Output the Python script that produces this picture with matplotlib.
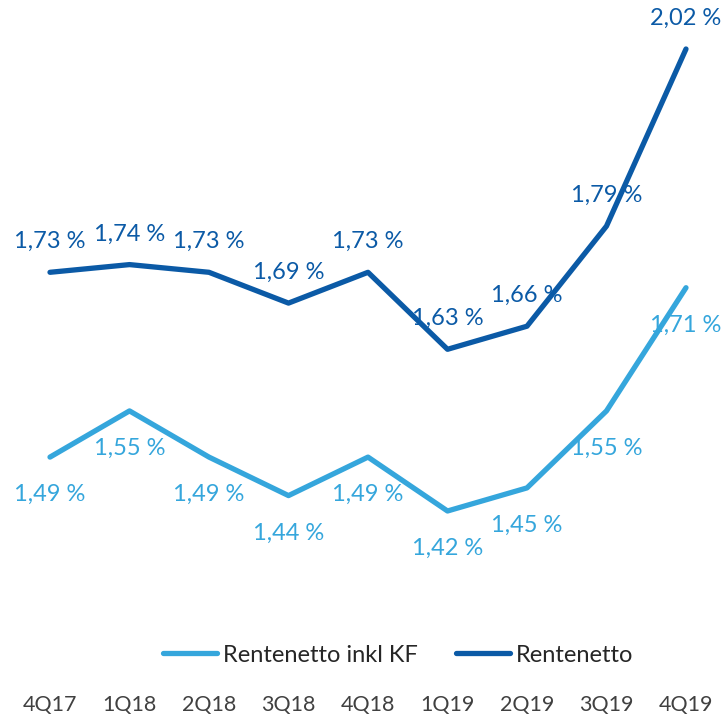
import matplotlib.pyplot as plt
import matplotlib.transforms as mtransforms

plt.rcParams['font.family'] = ['Lato', 'DejaVu Sans']

QUARTERS = ['4Q17', '1Q18', '2Q18', '3Q18', '4Q18', '1Q19', '2Q19', '3Q19', '4Q19']
RENTENETTO = [1.73, 1.74, 1.73, 1.69, 1.73, 1.63, 1.66, 1.79, 2.02]
RENTENETTO_KF = [1.49, 1.55, 1.49, 1.44, 1.49, 1.42, 1.45, 1.55, 1.71]

DARK = '#0B5AA6'
LIGHT = '#35A6DC'

fig = plt.figure(figsize=(7.26, 7.21), dpi=100)
ax = fig.add_axes([0, 81 / 721, 1, 640 / 721])
ax.set_axis_off()

x = list(range(len(QUARTERS)))

ax.plot(x, RENTENETTO_KF, color=LIGHT, lw=3.8, solid_capstyle='round',
        solid_joinstyle='round', label='Rentenetto inkl KF')
ax.plot(x, RENTENETTO, color=DARK, lw=3.8, solid_capstyle='round',
        solid_joinstyle='round', label='Rentenetto')

# data labels, dark above, light below
for i, v in enumerate(RENTENETTO):
    ax.annotate(f'{v:.2f} %'.replace('.', ','), (i, v), xytext=(0, 22),
                textcoords='offset points', ha='center', va='center',
                fontsize=17, color=DARK)
for i, v in enumerate(RENTENETTO_KF):
    ax.annotate(f'{v:.2f} %'.replace('.', ','), (i, v), xytext=(0, -27),
                textcoords='offset points', ha='center', va='center',
                fontsize=17, color=LIGHT)

ax.set_xlim(-50 / 79.5, 676 / 79.5)
ax.set_ylim(2.02 - 591 / 770, 2.02 + 49 / 770)

# category labels at the bottom
blend = mtransforms.blended_transform_factory(ax.transData, fig.transFigure)
for i, q in enumerate(QUARTERS):
    ax.text(i, 1 - 705 / 721, q, transform=blend, ha='center', va='center',
            fontsize=15.5, color='#404040')

fig.legend(loc='center', bbox_to_anchor=(398 / 726, 1 - 655 / 721), ncol=2,
           frameon=False, fontsize=17, handlelength=2.3, handletextpad=0.25,
           columnspacing=1.6, labelcolor='#262626')

fig.savefig('out.png', dpi=100)
